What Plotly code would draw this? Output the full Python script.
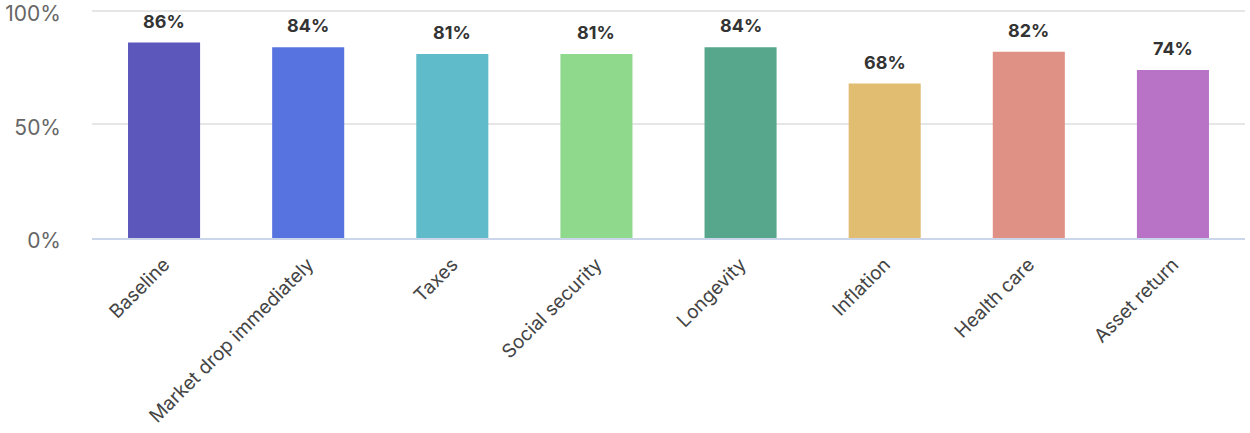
import plotly.graph_objects as go

categories = ["Baseline", "Market drop immediately", "Taxes", "Social security",
              "Longevity", "Inflation", "Health care", "Asset return"]
success_rate = [86, 84, 81, 81, 84, 68, 82, 74]
bar_colors = ["#5b57bb", "#5773e0", "#5fbbc9", "#8fd98d",
              "#56a78c", "#e1bd71", "#e09185", "#b872c6"]
y_ticks = [0, 50, 100]
y_tick_labels = ["0%", "50%", "100%"]

fig = go.Figure(
    go.Bar(
        x=categories,
        y=success_rate,
        marker=dict(color=bar_colors, line=dict(width=0)),
        hoverinfo="skip",
    )
)

# value labels floating above each bar
for cat, val in zip(categories, success_rate):
    fig.add_annotation(
        x=cat, y=val, text=f"{val}%", showarrow=False,
        yanchor="bottom", yshift=9,
        font=dict(family="Inter", size=18, color="#333333", weight="bold"),
    )

fig.update_layout(
    width=1250,
    height=433,
    margin=dict(l=92, r=5, t=4, b=195),
    plot_bgcolor="white",
    paper_bgcolor="white",
    bargap=0.5,
    showlegend=False,
    font=dict(family="Inter"),
)
fig.update_xaxes(
    tickangle=-45,
    tickfont=dict(size=19, color="#444444"),
    showline=True,
    linecolor="#ccd6eb",
    linewidth=2,
    ticks="",
    showgrid=False,
    ticklabelstandoff=6,
    automargin=False,
)
fig.update_yaxes(
    range=[0, 103],
    tickvals=y_ticks,
    ticktext=y_tick_labels,
    tickfont=dict(size=21, color="#666666"),
    gridcolor="#e6e6e6",
    gridwidth=2,
    zeroline=False,
    showline=False,
    ticklabelstandoff=30,
    ticklabelshift=3,
    ticklabeloverflow="allow",
    automargin=False,
)

fig.write_html("out.html")
